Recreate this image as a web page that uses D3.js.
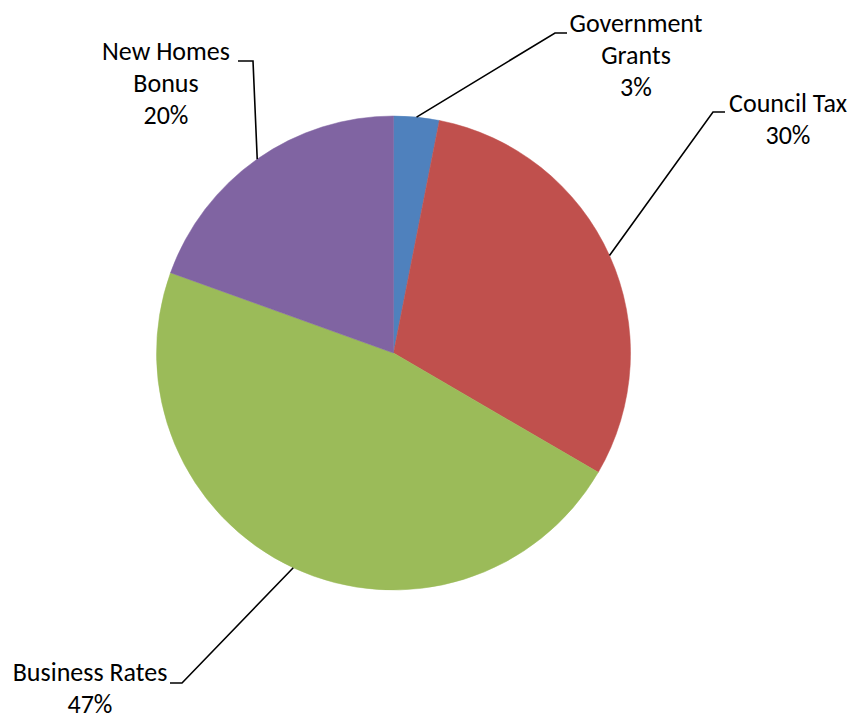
<!DOCTYPE html>
<html>
<head>
<meta charset="utf-8">
<script src="https://cdn.jsdelivr.net/npm/d3@7"></script>
<style>
    html, body { margin: 0; padding: 0; background: #fff; }
    svg text { font-family: Carlito, Lato, "Open Sans", sans-serif; font-size: 26px; fill: #000; }
</style>
</head>
<body>
<svg id="chart"></svg>
<script>
// funding sources, clockwise from 12 o'clock
let categories = ['Government Grants', 'Council Tax', 'Business Rates', 'New Homes Bonus'];
let values = [3.1, 30.3, 47.1, 19.5];
let percentLabels = ['3%', '30%', '47%', '20%'];
let labelLines = [['Government', 'Grants', '3%'], ['Council Tax', '30%'], ['Business Rates', '47%'], ['New Homes', 'Bonus', '20%']];
let colors = ['#4F81BD', '#C0504D', '#9BBB59', '#8064A2'];

let width = 852;
let height = 716;
let config = {
    cx: 393.5,
    cy: 353,
    radius: 237,
    lineHeight: 32
};
// label placement: text centre, first baseline, leader bend and tail
let layout = [
    {x: 636, y: 32, bend: [555, 33], tail: 567},
    {x: 788, y: 112, bend: [713, 112], tail: 725},
    {x: 90, y: 681, bend: [182, 683], tail: 170},
    {x: 166, y: 60, bend: [253, 61], tail: 238}
];

let svg = d3.select('#chart')
    .attr('width', width)
    .attr('height', height);

let data = categories.map((c, i) => ({name: c, value: values[i], pct: percentLabels[i], lines: labelLines[i], color: colors[i], pos: layout[i]}));

let pie = d3.pie()
    .sort(null)
    .value(d => d.value);
let arcs = pie(data);

let arc = d3.arc()
    .innerRadius(0)
    .outerRadius(config.radius);
let edge = d3.arc()
    .innerRadius(config.radius)
    .outerRadius(config.radius);

let g = svg.append('g')
    .attr('transform', `translate(${config.cx},${config.cy})`);

g.selectAll('.slice')
    .data(arcs)
    .enter()
    .append('path')
    .attr('class', 'slice')
    .attr('d', arc)
    .attr('fill', d => d.data.color)
    .attr('stroke', d => d.data.color)
    .attr('stroke-width', 0.5);

// leader lines
g.selectAll('.leader')
    .data(arcs)
    .enter()
    .append('polyline')
    .attr('class', 'leader')
    .attr('fill', 'none')
    .attr('stroke', '#000')
    .attr('stroke-width', 1.6)
    .attr('points', d => {
        let p = edge.centroid(d);
        let b = d.data.pos.bend;
        let pts = [p, [b[0] - config.cx, b[1] - config.cy], [d.data.pos.tail - config.cx, b[1] - config.cy]];
        return pts.map(q => q.join(',')).join(' ');
    });

let labels = svg.selectAll('.label')
    .data(data)
    .enter()
    .append('text')
    .attr('class', 'label')
    .attr('text-anchor', 'middle');

labels.selectAll('tspan')
    .data(d => d.lines.map((t, i) => ({t: t, x: d.pos.x, y: d.pos.y + i * config.lineHeight})))
    .enter()
    .append('tspan')
    .attr('x', d => d.x)
    .attr('y', d => d.y)
    .text(d => d.t);
</script>
</body>
</html>
